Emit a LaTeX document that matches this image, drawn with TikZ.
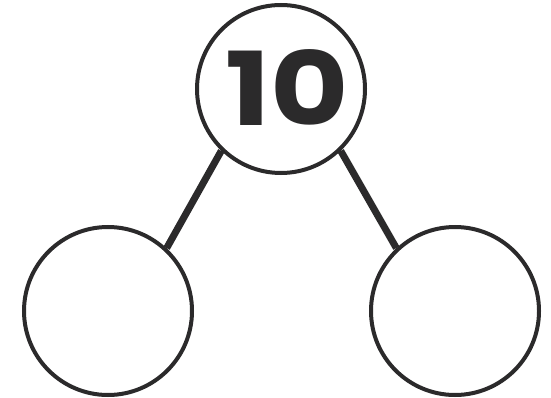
\documentclass[tikz,border=0pt]{standalone}
\usepackage{fontspec}
\setmainfont{Poppins}
\newfontfamily\numfont{Poppins}[FakeStretch=1.18]
\definecolor{ink}{HTML}{2B2A2B}

\begin{document}
\begin{tikzpicture}[x=1pt, y=-1pt, line cap=butt,
  bond/.style={circle, draw=ink, line width=4pt, minimum size=168pt, inner sep=0pt},
  stem/.style={draw=ink, line width=7pt}]
  % frame 551 x 398
  \useasboundingbox (0,0) rectangle (551,398);
  % whole on top, parts below
  \node[bond] (whole) at (281,89) {};
  \node[bond] (partL) at (108,311) {};
  \node[bond] (partR) at (455,311) {};
  \node[text=ink, font=\numfont\fontsize{102}{102}\selectfont\bfseries, inner sep=0pt] (num) at (287,88) {10};
  % connectors
  \draw[stem] (whole.226) -- (partL.47);
  \draw[stem] (whole.314) -- (partR.133);
\end{tikzpicture}
\end{document}
